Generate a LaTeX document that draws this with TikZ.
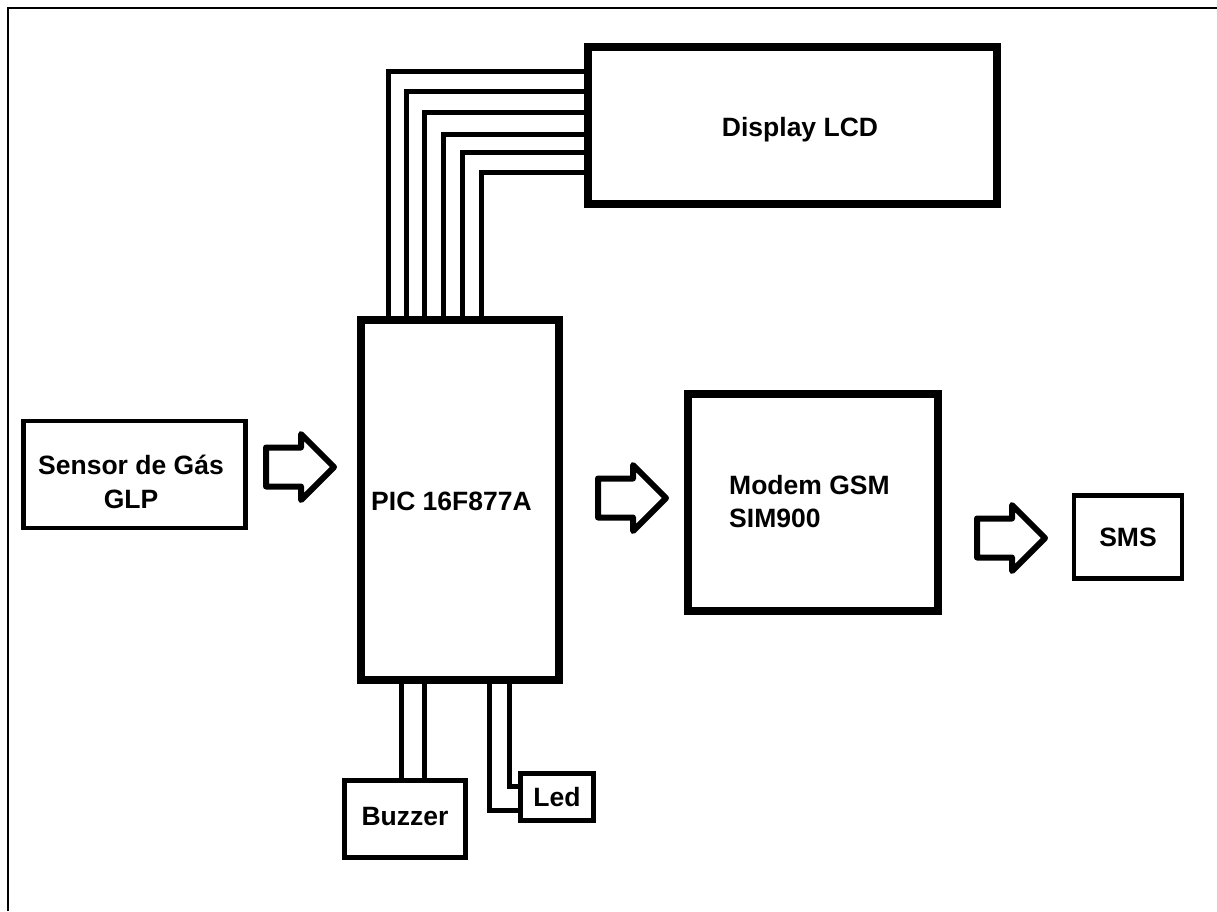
\documentclass[tikz,border=0pt]{standalone}
\usepackage{fontspec}
\setmainfont{Liberation Sans}
\usetikzlibrary{calc}
\begin{document}
\begin{tikzpicture}[x=1pt,y=-1pt,
  box/.style={draw=black,rectangle,inner sep=0pt,outer sep=0pt,fill=white},
  thick box/.style={box,line width=8.5pt},
  thin box/.style={box,line width=4.5pt},
  wire/.style={draw=black,line width=5pt},
  lbl/.style={font=\fontsize{26.5}{34}\selectfont\bfseries,inner sep=0pt,anchor=base},
  fatarrow/.style={draw=black,line width=6pt,line join=round}]
\useasboundingbox (0,0) rectangle (1217,911);
\fill[white] (0,0) rectangle (1217,911);
% frame (top and left only)
\coordinate (fl) at (8,911);
\coordinate (fc) at (8,8);
\coordinate (fr) at (1217,8);
\draw[line width=2.2pt] (fl) -- (fc) -- (fr);

% boxes
\node[thick box,minimum width=409pt,minimum height=157pt] (lcd) at (792.5,125.5) {};
\node[thick box,minimum width=198pt,minimum height=360pt] (pic) at (460,500) {};
\node[thick box,minimum width=250pt,minimum height=217pt] (modem) at (813,502.5) {};
\node[thin box,minimum width=222pt,minimum height=107pt] (sensor) at (134.5,474.5) {};
\node[thin box,minimum width=108pt,minimum height=83pt] (sms) at (1128,537) {};
\node[thin box,minimum width=121pt,minimum height=77pt] (buzzer) at (405,819) {};
\node[thin box,minimum width=73pt,minimum height=47pt] (led) at (557,797) {};

% labels
\node[lbl] (lcdtxt) at (800,136.5) {Display LCD};
\node[lbl] (pictxt) at (451.5,510) {PIC 16F877A};
\node[lbl] (sensortxta) at (131,474) {Sensor de Gás};
\node[lbl] (sensortxtb) at (131,508) {GLP};
\node[lbl,anchor=base west] (modemtxta) at (729,494) {Modem GSM};
\node[lbl,anchor=base west] (modemtxtb) at (729,527) {SIM900};
\node[lbl] (smstxt) at (1128,546) {SMS};
\node[lbl] (buzzertxt) at (405,825) {Buzzer};
\node[lbl] (ledtxt) at (557,806) {Led};

% LCD bus wires
\foreach \x/\y in {388/71,406/91,424/112,443/134,462/152,481/172}{
  \draw[wire] (pic.north -| \x,0) |- (lcd.west |- 0,\y);
}
% buzzer wires
\foreach \x in {401,424}{
  \draw[wire] (pic.south -| \x,0) -- (buzzer.north -| \x,0);
}
% led wires
\draw[wire] (pic.south -| 489,0) |- (led.west |- 0,810);
\draw[wire] (pic.south -| 509,0) |- (led.west |- 0,786);
% redraw box borders on top of wire ends
\node[thick box,fill=none,minimum width=409pt,minimum height=157pt] at (lcd.center) {};
\node[thick box,fill=none,minimum width=198pt,minimum height=360pt] at (pic.center) {};

% fat arrows
\foreach \n/\cx/\cy in {a1/300/467,a2/632/498,a3/1011/538}{
  \coordinate (\n) at (\cx,\cy);
  \draw[fatarrow] ($(\n)+(-34,-19.5)$) -- ($(\n)+(1,-19.5)$) -- ($(\n)+(1,-33)$)
     -- ($(\n)+(34,0)$) -- ($(\n)+(1,33)$) -- ($(\n)+(1,19.5)$) -- ($(\n)+(-34,19.5)$) -- cycle;
}
\end{tikzpicture}
\end{document}
